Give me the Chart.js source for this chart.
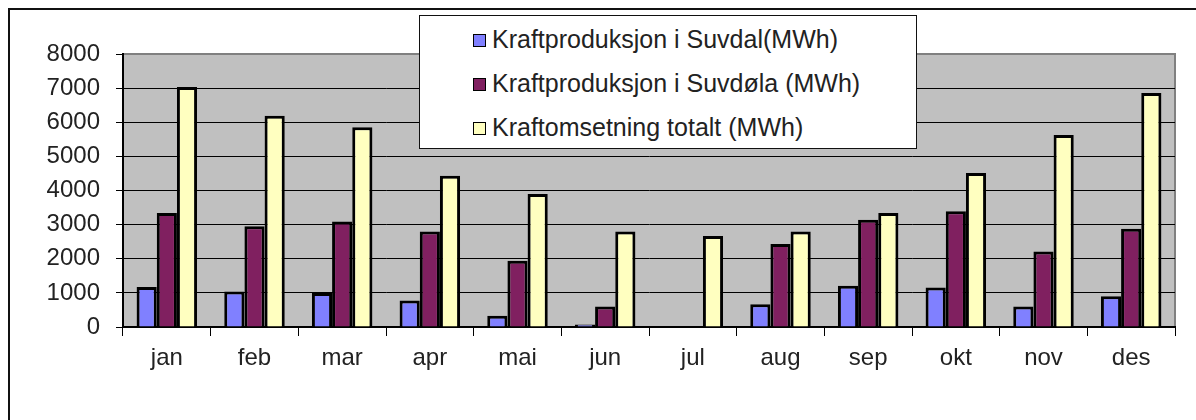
<!DOCTYPE html>
<html>
<head>
<meta charset="utf-8">
<script src="https://cdn.jsdelivr.net/npm/chart.js@4/dist/chart.umd.min.js"></script>
<style>
  body { margin: 0; background: #fff; overflow: hidden; }
  #wrap { position: relative; width: 1196px; height: 420px; }
  #frame { position: absolute; left: 8px; top: 8px; width: 1400px; height: 600px;
           border-left: 2px solid #111; border-top: 2px solid #111; }
  #chart { position: absolute; left: 0; top: 0; }
  #legend { position: absolute; left: 419px; top: 15px; width: 496px; height: 132px;
            background: #fff; border: 1px solid #111; font: 25px "Liberation Sans", Arial, sans-serif; color: #222; }
  .item { position: absolute; left: 53px; height: 30px; line-height: 30px; white-space: nowrap; }
  .box { display: inline-block; width: 11px; height: 11px; border: 1px solid #000; margin-right: 6px; vertical-align: 1px; }
</style>
</head>
<body>
<div id="wrap">
  <div id="frame"></div>
  <canvas id="chart" width="1196" height="420"></canvas>
  <div id="legend"></div>
</div>
<script>
const months  = ["jan", "feb", "mar", "apr", "mai", "jun", "jul", "aug", "sep", "okt", "nov", "des"];
const suvdal  = [1170, 1040, 1000, 780, 330, 70, 0, 670, 1210, 1160, 600, 900];
const suvdola = [3340, 2950, 3090, 2800, 1940, 600, 0, 2430, 3140, 3390, 2210, 2880];
const total   = [7030, 6190, 5850, 4430, 3900, 2800, 2670, 2800, 3340, 4510, 5630, 6860];
const seriesNames = ["Kraftproduksjon i Suvdal(MWh)", "Kraftproduksjon i Suvdøla (MWh)", "Kraftomsetning totalt (MWh)"];
const yMin = 0, yMax = 8000, yStep = 1000;

const FONT = "'Liberation Sans', Arial, sans-serif";

// grey plot area like the old Excel charts
const plotBg = {
  id: "plotBg",
  beforeDraw(chart) {
    const a = chart.chartArea, c = chart.ctx;
    c.save();
    c.fillStyle = "#C0C0C0";
    c.fillRect(a.left, a.top, a.right - a.left, a.bottom - a.top);
    c.strokeStyle = "#808080";
    c.lineWidth = 2;
    c.strokeRect(a.left, a.top, a.right - a.left, a.bottom - a.top);
    c.restore();
  }
};

const bar = (label, data, color) => ({
  label, data,
  backgroundColor: color,
  borderColor: "#000",
  borderWidth: 3,
  borderSkipped: "start",
  categoryPercentage: 0.69,
  barPercentage: 1.0
});

const chart = new Chart(document.getElementById("chart"), {
  type: "bar",
  data: {
    labels: months,
    datasets: [
      bar(seriesNames[0], suvdal, "#8080FF"),
      bar(seriesNames[1], suvdola, "#802060"),
      bar(seriesNames[2], total, "#FFFFC0")
    ]
  },
  options: {
    responsive: false,
    animation: false,
    layout: { padding: { top: 54, right: 21, left: 0, bottom: 0 } },
    plugins: { legend: { display: false }, tooltip: { enabled: false } },
    scales: {
      x: {
        grid: { offset: true, drawOnChartArea: false, drawTicks: true, tickLength: 9, color: "#000", lineWidth: 1 },
        border: { color: "#000", width: 2 },
        ticks: { color: "#222", font: { family: FONT, size: 24 }, padding: 8, maxRotation: 0, autoSkip: false },
        afterFit(s) { s.height = 93; }
      },
      y: {
        min: yMin, max: yMax,
        grid: {
          color: (ctx) => (ctx.tick && ctx.tick.value === yMax ? "#808080" : "#000"),
          tickColor: "#000", tickLength: 7, lineWidth: 1
        },
        border: { color: "#000", width: 2 },
        ticks: { stepSize: yStep, color: "#222", font: { family: FONT, size: 24 }, padding: 16,
                 callback: (v) => String(v) },
        afterFit(s) { s.width = 123; }
      }
    }
  },
  plugins: [plotBg]
});

// legend box drawn as html, items taken from the chart
const legendEl = document.getElementById("legend");
const items = Chart.defaults.plugins.legend.labels.generateLabels(chart);
items.forEach((it, i) => {
  const row = document.createElement("div");
  row.className = "item";
  row.style.top = (8 + i * 44) + "px";
  const sw = document.createElement("span");
  sw.className = "box";
  sw.style.background = it.fillStyle;
  row.appendChild(sw);
  row.appendChild(document.createTextNode(it.text));
  legendEl.appendChild(row);
});
</script>
</body>
</html>
